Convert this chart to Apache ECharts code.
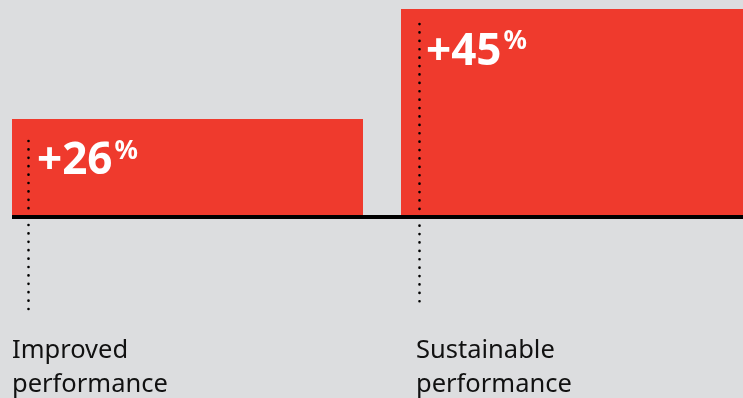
<!DOCTYPE html>
<html>
<head>
<meta charset="utf-8">
<style>
  html, body { margin: 0; padding: 0; background: #dcdddf; }
  #main { width: 743px; height: 398px; }
</style>
<script src="https://cdn.jsdelivr.net/npm/echarts@6/dist/echarts.min.js"></script>
</head>
<body>
<div id="main"></div>
<script>
// categories and values
var categories = ['Improved\nperformance', 'Sustainable\nperformance'];
var values = [26, 45];
var yMin = 9.4;   // bars are not drawn from zero in the original
var yMax = 45;

var RED = '#ef3a2d';
var BAR_W = 351;
// small per-bar layout tweaks (the original is not quite regular)
var dotTopGap = [22, 15];
var dotBottomGap = [96, 91];
var labelShift = [0, 15];

var chart = echarts.init(document.getElementById('main'));

// baseline, dotted marker and category label for each bar
function renderExtras(params, api) {
  var i = api.value(0);
  var v = api.value(1);
  var topPt = api.coord([i, v]);
  var bottom = api.coord([i, yMin])[1];
  var band = api.size([1, 0])[0];
  var left = topPt[0] - BAR_W / 2;
  var dx = left + (i === 0 ? 16.5 : 18.5);
  return {
    type: 'group',
    children: [
      {
        type: 'rect',
        shape: { x: left, y: bottom, width: band, height: 4 },
        style: { fill: '#000' }
      },
      {
        type: 'line',
        shape: { x1: dx, y1: topPt[1] + dotTopGap[i], x2: dx, y2: bottom + dotBottomGap[i] },
        style: { stroke: '#000', lineWidth: 2.6, lineDash: [0.1, 8.3], lineCap: 'round' }
      },
      {
        type: 'text',
        x: left + labelShift[i],
        y: bottom + 119,
        style: {
          text: categories[i],
          fill: '#111',
          font: '25.5px "Noto Sans"',
          lineHeight: 34,
          verticalAlign: 'top',
          align: 'left'
        }
      }
    ]
  };
}

var option = {
  backgroundColor: '#dcdddf',
  animation: false,
  grid: { left: -7, width: 778, top: 9, bottom: 183, outerBoundsMode: 'none', containLabel: false },
  xAxis: {
    type: 'category',
    data: categories,
    show: false
  },
  yAxis: {
    type: 'value',
    min: yMin,
    max: yMax,
    show: false
  },
  series: [
    {
      type: 'bar',
      data: values,
      barWidth: BAR_W,
      itemStyle: { color: RED },
      label: {
        show: true,
        position: 'insideTopLeft',
        distance: 0,
        offset: [25, 20],
        formatter: function (p) {
          return '{n|+' + p.value + '}{p|%}';
        },
        rich: {
          n: {
            fontFamily: 'Noto Sans',
            fontWeight: 'bold',
            fontSize: 44,
            lineHeight: 46,
            color: '#fff'
          },
          p: {
            fontFamily: 'Noto Sans',
            fontWeight: 'bold',
            fontSize: 26,
            lineHeight: 46,
            color: '#fff',
            verticalAlign: 'top',
            padding: [0, 0, 0, 2]
          }
        }
      }
    },
    {
      type: 'custom',
      data: values.map(function (v, i) { return [i, v]; }),
      renderItem: renderExtras,
      z: 5,
      silent: true
    }
  ]
};

chart.setOption(option);
</script>
</body>
</html>
